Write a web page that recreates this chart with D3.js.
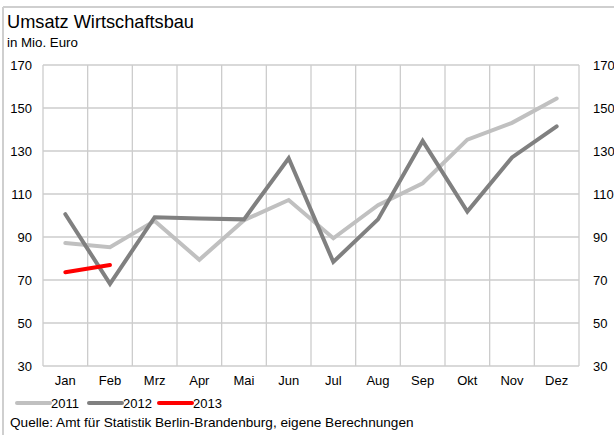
<!DOCTYPE html>
<html>
<head>
<meta charset="utf-8">
<script src="https://cdn.jsdelivr.net/npm/d3@7"></script>
<style>
  html, body { margin: 0; padding: 0; background: #fff; }
  svg { display: block; font-family: "Liberation Sans", Arial, sans-serif; }
</style>
</head>
<body>
<svg id="chart" width="614" height="435"></svg>
<script>
// Monthly construction revenue (commercial buildings), in million euro
const months = ["Jan", "Feb", "Mrz", "Apr", "Mai", "Jun", "Jul", "Aug", "Sep", "Okt", "Nov", "Dez"];
const values2011 = [87.2, 85.2, 97.5, 79.4, 97.8, 107.2, 89.4, 104.8, 115.0, 135.3, 143.1, 154.4];
const values2012 = [100.6, 68.2, 99.2, 98.6, 98.2, 126.6, 78.4, 98.2, 134.7, 101.8, 127.0, 141.5];
const values2013 = [73.6, 77.0];
const yTicks = [30, 50, 70, 90, 110, 130, 150, 170];
const seriesNames = ["2011", "2012", "2013"];
const seriesColors = ["#c0c0c0", "#808080", "#ff0000"];

const svg = d3.select("#chart");
const plot = { left: 43, right: 579, top: 65, bottom: 366 };

// outer frame (top and left edges)
svg.append("line").attr("x1", 3).attr("x2", 614).attr("y1", 7).attr("y2", 7)
  .attr("stroke", "#cfcfcf").attr("stroke-width", 2);
svg.append("line").attr("x1", 3).attr("x2", 3).attr("y1", 7).attr("y2", 435)
  .attr("stroke", "#cfcfcf").attr("stroke-width", 2);

// titles
svg.append("text").attr("x", 7).attr("y", 28).attr("font-size", 18.2).attr("fill", "#000")
  .text("Umsatz Wirtschaftsbau");
svg.append("text").attr("x", 7).attr("y", 47).attr("font-size", 13.3).attr("fill", "#000")
  .text("in Mio. Euro");

const x = d3.scaleBand().domain(months).range([plot.left, plot.right]);
const y = d3.scaleLinear().domain([30, 170]).range([plot.bottom, plot.top]);

// horizontal gridlines
svg.append("g").selectAll("line").data(yTicks).join("line")
  .attr("x1", plot.left).attr("x2", plot.right)
  .attr("y1", d => y(d)).attr("y2", d => y(d))
  .attr("stroke", "#cccccc").attr("stroke-width", 1.3);

// vertical gridlines at band boundaries
const bounds = months.map(m => x(m)).concat([plot.right]);
svg.append("g").selectAll("line").data(bounds).join("line")
  .attr("x1", d => d).attr("x2", d => d)
  .attr("y1", plot.top).attr("y2", plot.bottom)
  .attr("stroke", "#cccccc").attr("stroke-width", 1.3);

// left and right value axes
const leftAxis = d3.axisLeft(y).tickValues(yTicks).tickSize(0).tickPadding(11);
const rightAxis = d3.axisRight(y).tickValues(yTicks).tickSize(0).tickPadding(14);
const gl = svg.append("g").attr("transform", `translate(${plot.left},0)`).call(leftAxis);
const gr = svg.append("g").attr("transform", `translate(${plot.right},0)`).call(rightAxis);
[gl, gr].forEach(g => {
  g.select(".domain").remove();
  g.selectAll("text").attr("font-size", 13).attr("fill", "#000")
    .attr("font-family", "Liberation Sans, Arial, sans-serif");
});

// month axis
const bottomAxis = d3.axisBottom(x).tickSize(0).tickPadding(10);
const gb = svg.append("g").attr("transform", `translate(0,${plot.bottom})`).call(bottomAxis);
gb.select(".domain").remove();
gb.selectAll("text").attr("font-size", 13).attr("fill", "#000")
  .attr("font-family", "Liberation Sans, Arial, sans-serif");

// data lines
const line = d3.line()
  .x((d, i) => x(months[i]) + x.bandwidth() / 2)
  .y(d => y(d));
[values2011, values2012, values2013].forEach((vals, i) => {
  svg.append("path").datum(vals)
    .attr("d", line)
    .attr("fill", "none")
    .attr("stroke", seriesColors[i])
    .attr("stroke-width", 4)
    .attr("stroke-linejoin", "miter")
    .attr("stroke-linecap", "round");
});

// legend
const legendX = [17, 89, 159];
const legend = svg.append("g");
seriesNames.forEach((name, i) => {
  legend.append("line")
    .attr("x1", legendX[i]).attr("x2", legendX[i] + 33)
    .attr("y1", 403).attr("y2", 403)
    .attr("stroke", seriesColors[i]).attr("stroke-width", 4)
    .attr("stroke-linecap", "round");
  legend.append("text")
    .attr("x", legendX[i] + 34).attr("y", 407.5)
    .attr("font-size", 13).attr("fill", "#000")
    .text(name);
});

// source note
svg.append("text").attr("x", 10).attr("y", 427).attr("font-size", 13.6)
  .attr("fill", "#000")
  .text("Quelle: Amt für Statistik Berlin-Brandenburg, eigene Berechnungen");
</script>
</body>
</html>
